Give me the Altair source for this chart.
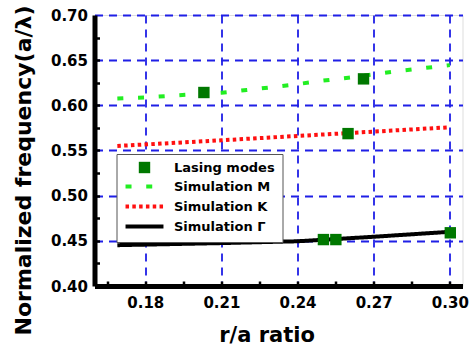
import altair as alt
import pandas as pd

# ---- data ----
series_names = ["Lasing modes", "Simulation M", "Simulation K", "Simulation Γ"]
series_colors = ["#007800", "#22ee22", "#ff1010", "#000000"]

r_m = [0.169, 0.18, 0.19, 0.20, 0.21, 0.22, 0.23, 0.24, 0.25, 0.26, 0.27, 0.28, 0.29, 0.30]
f_m = [0.6076, 0.6088, 0.6106, 0.6123, 0.6139, 0.6170, 0.6201, 0.6235, 0.6273, 0.6306,
       0.6343, 0.6380, 0.6413, 0.6445]

r_k = [0.169, 0.21, 0.24, 0.27, 0.30]
f_k = [0.5550, 0.5613, 0.5661, 0.5709, 0.5757]

r_g = [0.169, 0.21, 0.24, 0.27, 0.30]
f_g = [0.4452, 0.4475, 0.4495, 0.4545, 0.4600]

r_lasing = [0.2031, 0.2660, 0.2599, 0.2502, 0.2551, 0.3002]
f_lasing = [0.6142, 0.6293, 0.5687, 0.4514, 0.4514, 0.4589]

x_ticks = [0.18, 0.21, 0.24, 0.27, 0.30]
y_ticks = [0.40, 0.45, 0.50, 0.55, 0.60, 0.65, 0.70]
x_minor = [0.165, 0.18, 0.195, 0.21, 0.225, 0.24, 0.255, 0.27, 0.285, 0.30]
y_minor = [0.425, 0.45, 0.475, 0.50, 0.525, 0.55, 0.575, 0.60, 0.625, 0.65, 0.675]

# ---- tables ----
rows = []
for name, xs, ys in [("Simulation M", r_m, f_m), ("Simulation K", r_k, f_k), ("Simulation Γ", r_g, f_g)]:
    for i, (xv, yv) in enumerate(zip(xs, ys)):
        rows.append({"series": name, "r": xv, "f": yv, "i": i})
lines_df = pd.DataFrame(rows)
pts_df = pd.DataFrame({"series": ["Lasing modes"] * len(r_lasing), "r": r_lasing, "f": f_lasing})

FONT = "DejaVu Sans"
legend = alt.Legend(
    orient="none", legendX=22, legendY=139, title=None,
    labelFont=FONT, labelFontSize=13, labelFontWeight="bold", labelColor="black",
    labelOffset=21, symbolOffset=12.5, padding=7, rowPadding=3,
    strokeColor="#555555", fillColor="white",
)

LINE_GLYPH = "M-3,0H3"
color_scale = alt.Scale(domain=series_names, range=series_colors)
shape_scale = alt.Scale(domain=series_names, range=["square", LINE_GLYPH, LINE_GLYPH, LINE_GLYPH])
dash_scale = alt.Scale(domain=series_names, range=[[1, 0], [6, 14.7], [3.5, 3.3], [1, 0]])
width_scale = alt.Scale(type="ordinal", domain=series_names, range=[0, 4, 4, 4])
size_scale = alt.Scale(type="ordinal", domain=series_names, range=[130, 160, 160, 160])

x_scale = alt.Scale(domain=[0.16, 0.305], nice=False, zero=False)
y_scale = alt.Scale(domain=[0.40, 0.70], nice=False, zero=False)

x_axis = alt.Axis(
    orient="bottom", values=x_ticks, format=".2f", title="r/a ratio",
    grid=True, gridColor="#1f1fe6", gridDash=[8, 6], gridWidth=1.8,
    ticks=False, domain=True, domainColor="black", domainWidth=5,
    labelFont=FONT, labelFontSize=15, labelFontWeight="bold", labelColor="black", labelPadding=9,
    titleFont=FONT, titleFontSize=21, titleFontWeight="bold", titleColor="black",
    titleX=172, titleY=49, titleBaseline="middle", titleAlign="center",
)
y_axis = alt.Axis(
    orient="left", values=y_ticks, format=".2f", title="Normalized frequency(a/λ)",
    grid=True, gridColor="#1f1fe6", gridDash=[8, 6], gridWidth=1.8,
    ticks=False, domain=True, domainColor="black", domainWidth=5,
    labelFont=FONT, labelFontSize=15, labelFontWeight="bold", labelColor="black", labelPadding=7,
    titleFont=FONT, titleFontSize=22, titleFontWeight="bold", titleColor="black",
    titleX=-71, titleY=155, titleBaseline="middle", titleAlign="center", titleAngle=270,
)
x_tick_axis = alt.Axis(orient="bottom", values=x_minor, offset=-5, labels=False, title=None,
                       grid=False, domain=False, ticks=True, tickSize=3, tickWidth=2.5, tickColor="black")
y_tick_axis = alt.Axis(orient="left", values=y_minor, offset=-5, labels=False, title=None,
                       grid=False, domain=False, ticks=True, tickSize=3, tickWidth=2.5, tickColor="black")

lines = alt.Chart(lines_df).mark_line().encode(
    x=alt.X("r:Q", scale=x_scale, axis=x_axis),
    y=alt.Y("f:Q", scale=y_scale, axis=y_axis),
    color=alt.Color("series:N", scale=color_scale, legend=legend),
    strokeDash=alt.StrokeDash("series:N", scale=dash_scale, legend=legend),
    strokeWidth=alt.StrokeWidth("series:N", scale=width_scale, legend=legend),
    detail="series:N",
    order="i:Q",
)

points = alt.Chart(pts_df).mark_point(filled=True, opacity=1).encode(
    x=alt.X("r:Q", scale=x_scale, axis=x_tick_axis),
    y=alt.Y("f:Q", scale=y_scale, axis=y_tick_axis),
    color=alt.Color("series:N", scale=color_scale, legend=legend),
    shape=alt.Shape("series:N", scale=shape_scale, legend=legend),
    size=alt.Size("series:N", scale=size_scale, legend=legend),
)

chart = (
    alt.layer(lines, points)
    .resolve_axis(x="independent", y="independent")
    .properties(width=368, height=271,
                autosize=alt.AutoSizeParams(type="none"),
                padding={"left": 94.5, "top": 15, "right": 8.5, "bottom": 66})
    .configure_view(stroke="black", strokeWidth=3)
    .configure(font=FONT, background="white")
)

chart.save("out.html", embed_options={"renderer": "svg", "actions": False})
